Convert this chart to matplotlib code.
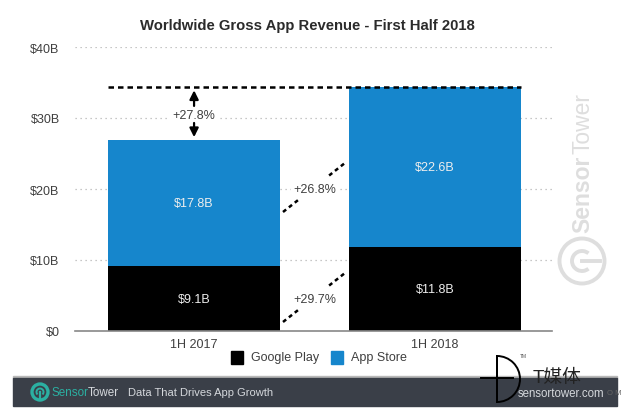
import matplotlib
matplotlib.use('Agg')
import matplotlib.pyplot as plt
from matplotlib.patches import Rectangle, Circle, Wedge, Arc

W, H = 631, 414

periods = ['1H 2017', '1H 2018']
google_play = [9.1, 11.8]
app_store = [17.8, 22.6]
gp_labels = ['$9.1B', '$11.8B']
as_labels = ['$17.8B', '$22.6B']
yticks = [0, 10, 20, 30, 40]
ytick_labels = ['$0', '$10B', '$20B', '$30B', '$40B']
total_growth = '+27.8%'
as_growth = '+26.8%'
gp_growth = '+29.7%'

BLUE = '#1686cc'
GREY = '#3f3f3f'
BAND = '#3a3f48'
TEAL = '#2bb0a2'
MARK = '#dedede'

plt.rcParams['font.family'] = ['Liberation Sans', 'Noto Sans CJK SC', 'DejaVu Sans']

fig = plt.figure(figsize=(W / 100, H / 100), dpi=100)
ax = fig.add_axes([75 / W, 1 - 332 / H, (552 - 75) / W, (332 - 48) / H])
ax.set_xlim(-0.494, 1.485)
ax.set_ylim(0, 40)

for t in yticks[1:]:
    ax.axhline(t, color='#b5b5b5', lw=0.9, ls=(0, (1, 3)), zorder=1)

xs = [0, 1]
bar_w = 0.714
ax.bar(xs, google_play, bar_w, color='black', zorder=2, label='Google Play')
ax.bar(xs, app_store, bar_w, bottom=google_play, color=BLUE, zorder=2, label='App Store')

for i in xs:
    ax.text(i, google_play[i] / 2, gp_labels[i], color='#eeeeee', fontsize=9,
            ha='center', va='center', zorder=3)
    ax.text(i, google_play[i] + app_store[i] / 2, as_labels[i], color='#eeeeee', fontsize=9,
            ha='center', va='center', zorder=3)

for s in ['top', 'left', 'right']:
    ax.spines[s].set_visible(False)
ax.spines['bottom'].set_color('#888888')
ax.spines['bottom'].set_linewidth(1.2)
ax.set_xticks(xs)
ax.set_xticklabels(periods)
ax.set_yticks(yticks)
ax.set_yticklabels(ytick_labels)
ax.tick_params(axis='both', length=0, labelsize=9, labelcolor=GREY)
ax.tick_params(axis='x', pad=5)
ax.tick_params(axis='y', pad=11)

total_a = google_play[0] + app_store[0]
total_b = google_play[1] + app_store[1]

# dashed line over the bars and the arrows for total growth
dash = dict(color='black', lw=1.8, ls=(0, (2.2, 1.6)), zorder=4)
ax.plot([-bar_w / 2, 1 + bar_w / 2], [total_b, total_b], **dash)
mid = (total_a + total_b) / 2
ax.text(0, mid - 0.2, total_growth, fontsize=9, color=GREY, ha='center', va='center', zorder=5,
        bbox=dict(facecolor='white', edgecolor='none', pad=2))
arrow = dict(arrowstyle='-|>', color='black', lw=1.6, mutation_scale=13, shrinkA=0, shrinkB=0)
ax.annotate('', xy=(0, total_b - 0.5), xytext=(0, mid + 1.05), arrowprops=arrow, zorder=5)
ax.annotate('', xy=(0, total_a + 0.4), xytext=(0, mid - 1.35), arrowprops=arrow, zorder=5)

# slanted connectors between the bars, broken around the label
x0 = bar_w / 2 + 0.012
x1 = 1 - bar_w / 2 - 0.012
frac = 0.27
slant = dict(color='black', lw=1.8, ls=(0, (1.6, 1.4)), zorder=4)
for y0, y1, lab in [(1.27, 8.3, gp_growth), (16.76, 23.8, as_growth)]:
    dx, dy = x1 - x0, y1 - y0
    ax.plot([x0, x0 + frac * dx], [y0, y0 + frac * dy], **slant)
    ax.plot([x1 - frac * dx, x1], [y1 - frac * dy, y1], **slant)
    ax.text(0.5, (y0 + y1) / 2 - 0.3, lab, fontsize=9, color=GREY, ha='center', va='center', zorder=5,
            bbox=dict(facecolor='white', edgecolor='none', pad=1.5))

fig.text(307 / W, 1 - 26 / H, 'Worldwide Gross App Revenue - First Half 2018', fontsize=10.75,
         fontweight='bold', color='#2b2b2b', ha='center', va='center')

# legend
ov = fig.add_axes([0, 0, 1, 1], zorder=10)
ov.set_xlim(0, W)
ov.set_ylim(H, 0)
ov.axis('off')
ov.add_patch(Rectangle((231, 351.5), 12, 13, color='black'))
ov.text(251, 358, 'Google Play', fontsize=9, color=GREY, va='center')
ov.add_patch(Rectangle((331, 351.5), 12, 13, color=BLUE))
ov.text(351, 358, 'App Store', fontsize=9, color=GREY, va='center')

# footer band
ov.add_patch(Rectangle((13, 377), 604, 1.5, color='#b9b9b9'))
ov.add_patch(Rectangle((13, 378.5), 604, 28.5, color=BAND))
ov.add_patch(Circle((40, 393), 8, fill=False, ec=TEAL, lw=2.4))
ov.add_patch(Arc((40, 393), 7, 7, theta1=135, theta2=45, ec=TEAL, lw=1.4))
ov.plot([40, 40], [393, 401], color=TEAL, lw=1.6)
ov.text(52, 393, 'Sensor', fontsize=8.4, color=TEAL, va='center')
ov.text(88, 393, 'Tower', fontsize=8.4, color='#d5d8dc', va='center')
ov.text(128, 393, 'Data That Drives App Growth', fontsize=8, color='#d5d8dc', va='center')
ov.text(518, 394, 'sensortower.com', fontsize=8.3, color='#d5d8dc', va='center')
ov.text(607, 394, 'O M', fontsize=5.5, color='#666666', va='center')

# side watermark
ov.text(583, 233, 'Sensor', fontsize=16.5, color=MARK, rotation=90,
        ha='center', va='bottom', fontweight='bold')
ov.text(583, 154, 'Tower', fontsize=16.5, color=MARK, rotation=90,
        ha='center', va='bottom')
ov.add_patch(Circle((582, 262), 22.5, fill=False, ec=MARK, lw=2.8))
ov.add_patch(Arc((582, 262), 20, 20, theta1=50, theta2=310, ec=MARK, lw=2.8))
ov.plot([582, 600], [262, 262], color=MARK, lw=2.8)

# T media stamp
ov.plot([481, 513], [379, 379], color='black', lw=1.4)
ov.plot([497, 497], [357, 403], color='black', lw=1.4)
ov.add_patch(Wedge((497, 380), 23, -90, 90, fill=False, ec='black', lw=1.4))
ov.text(520, 357, 'TM', fontsize=3.5, color='#555555', va='center')
ov.text(533, 378, 'T媒体', fontsize=13.5, color='#222222', va='center')

fig.savefig('out.png', dpi=100)
